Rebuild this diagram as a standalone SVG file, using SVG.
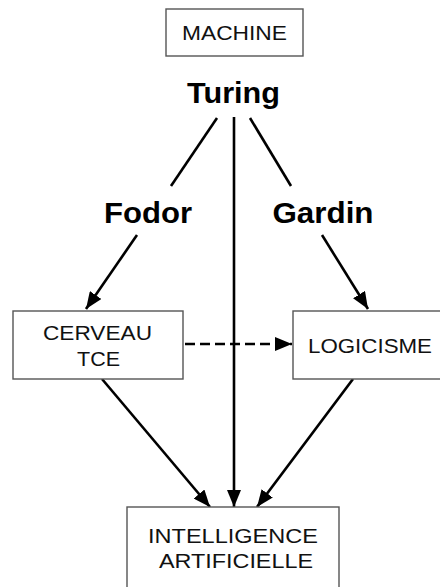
<svg xmlns="http://www.w3.org/2000/svg" width="440" height="587" viewBox="0 0 440 587">
<style>
  .box { fill: #fff; stroke: #555; stroke-width: 1.4; }
  .lbl { font-family: "Liberation Sans", Arial, sans-serif; font-size: 21px; fill: #111; text-anchor: middle; }
  .name { font-family: "Liberation Sans", Arial, sans-serif; font-size: 29px; font-weight: bold; fill: #000; text-anchor: middle; }
  .edge { stroke: #000; stroke-width: 2.6; fill: none; }
  .arr { marker-end: url(#ah); }
  .dash { stroke-dasharray: 10 5; }
</style>
<defs>
  <marker id="ah" markerUnits="userSpaceOnUse" markerWidth="17" markerHeight="14" refX="17" refY="7" orient="auto">
    <path d="M0,0 L17,7 L0,14 z" fill="#000"/>
  </marker>
</defs>
<rect width="440" height="587" fill="#fff"/>
<g id="connectors">
  <line class="edge" x1="217" y1="118" x2="171" y2="186"/>
  <line class="edge" x1="250" y1="118" x2="291" y2="186"/>
  <line class="edge arr" x1="137" y1="235" x2="86" y2="309"/>
  <line class="edge arr" x1="322" y1="235" x2="368" y2="309"/>
  <line class="edge arr" x1="234" y1="117" x2="234" y2="507"/>
  <line class="edge arr dash" x1="185" y1="344" x2="292" y2="344"/>
  <line class="edge arr" x1="102" y1="379" x2="210" y2="507"/>
  <line class="edge arr" x1="353" y1="379" x2="257" y2="507"/>
</g>
<g id="machine">
  <rect class="box" x="166" y="9" width="137" height="47"/>
  <text class="lbl" x="234.5" y="39.5" textLength="105" lengthAdjust="spacingAndGlyphs">MACHINE</text>
</g>
<g id="turing">
  <text class="name" x="233.5" y="103" textLength="93" lengthAdjust="spacingAndGlyphs">Turing</text>
</g>
<g id="fodor">
  <text class="name" x="148" y="223" textLength="88" lengthAdjust="spacingAndGlyphs">Fodor</text>
</g>
<g id="gardin">
  <text class="name" x="323" y="223" textLength="101" lengthAdjust="spacingAndGlyphs">Gardin</text>
</g>
<g id="cerveau">
  <rect class="box" x="13" y="311" width="170" height="68"/>
  <text class="lbl" x="97.5" y="339.5" textLength="109" lengthAdjust="spacingAndGlyphs">CERVEAU</text>
  <text class="lbl" x="98.5" y="365.5" textLength="43" lengthAdjust="spacingAndGlyphs">TCE</text>
</g>
<g id="logicisme">
  <rect class="box" x="293" y="311" width="160" height="68"/>
  <text class="lbl" x="370" y="352.5" textLength="124" lengthAdjust="spacingAndGlyphs">LOGICISME</text>
</g>
<g id="ia">
  <rect class="box" x="127" y="507" width="212" height="100"/>
  <text class="lbl" x="233" y="542.5" textLength="170" lengthAdjust="spacingAndGlyphs">INTELLIGENCE</text>
  <text class="lbl" x="236" y="567.5" textLength="154" lengthAdjust="spacingAndGlyphs">ARTIFICIELLE</text>
</g>
</svg>
